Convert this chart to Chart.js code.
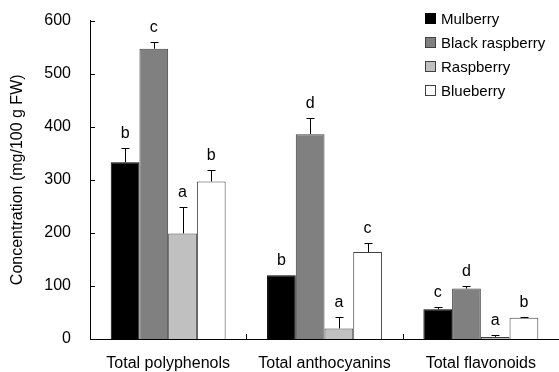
<!DOCTYPE html>
<html>
<head>
<meta charset="utf-8">
<script src="https://cdn.jsdelivr.net/npm/chart.js@4.4.0/dist/chart.umd.min.js"></script>
<style>
  html, body { margin: 0; padding: 0; background: #fff; }
  #wrap { width: 559px; height: 372px; position: relative; }
</style>
</head>
<body>
<div id="wrap"><canvas id="barChart"></canvas></div>
<script>
// Chart data
const categories = ['Total polyphenols', 'Total anthocyanins', 'Total flavonoids'];
const fruits = ['Mulberry', 'Black raspberry', 'Raspberry', 'Blueberry'];
const fillColors = ['#000000', '#808080', '#c0c0c0', '#ffffff'];

const mulberry = [333, 120, 56];
const blackRaspberry = [547, 386, 95];
const raspberry = [199, 20, 4];
const blueberry = [297, 164, 40];

const mulberryErr = [27, 0, 5];
const blackRaspberryErr = [13, 31, 4];
const raspberryErr = [49, 21, 3];
const blueberryErr = [21, 16, 2];

const mulberryLetters = ['b', 'b', 'c'];
const blackRaspberryLetters = ['c', 'd', 'd'];
const raspberryLetters = ['a', 'a', 'a'];
const blueberryLetters = ['b', 'c', 'b'];

const yTicks = [0, 100, 200, 300, 400, 500, 600];

const seriesValues = [mulberry, blackRaspberry, raspberry, blueberry];
const seriesErrors = [mulberryErr, blackRaspberryErr, raspberryErr, blueberryErr];
const seriesLetters = [mulberryLetters, blackRaspberryLetters, raspberryLetters, blueberryLetters];

const FONT = '"Liberation Sans", Arial, sans-serif';

// error bars, significance letters, inward ticks and the legend
const extrasPlugin = {
    id: 'extras',
    afterDatasetsDraw(chart) {
        const ctx = chart.ctx;
        const y = chart.scales.y;
        const area = chart.chartArea;
        ctx.save();
        ctx.strokeStyle = '#000';
        ctx.lineWidth = 1;
        ctx.fillStyle = '#000';
        ctx.font = '16px ' + FONT;
        ctx.textAlign = 'center';
        ctx.textBaseline = 'alphabetic';

        seriesValues.forEach((vals, di) => {
            const meta = chart.getDatasetMeta(di);
            meta.data.forEach((bar, i) => {
                const cx = Math.round(bar.x) + 0.5;
                const yTop = y.getPixelForValue(vals[i]);
                const yErr = y.getPixelForValue(vals[i] + seriesErrors[di][i]);
                if (seriesErrors[di][i] > 0) {
                    ctx.beginPath();
                    ctx.moveTo(cx, yTop);
                    ctx.lineTo(cx, Math.round(yErr) + 0.5);
                    ctx.moveTo(cx - 4, Math.round(yErr) + 0.5);
                    ctx.lineTo(cx + 4, Math.round(yErr) + 0.5);
                    ctx.stroke();
                }
                ctx.fillText(seriesLetters[di][i], bar.x, yErr - 10);
            });
        });

        // y ticks pointing inward
        yTicks.forEach(v => {
            const py = Math.round(y.getPixelForValue(v)) + 0.5;
            ctx.beginPath();
            ctx.moveTo(area.left, py);
            ctx.lineTo(area.left + 5, py);
            ctx.stroke();
        });
        // x ticks between categories
        const step = (area.right - area.left) / categories.length;
        for (let i = 1; i < categories.length; i++) {
            const px = Math.round(area.left + i * step) + 0.5;
            ctx.beginPath();
            ctx.moveTo(px, area.bottom);
            ctx.lineTo(px, area.bottom - 5);
            ctx.stroke();
        }

        // legend
        ctx.font = '15px ' + FONT;
        ctx.textAlign = 'left';
        ctx.textBaseline = 'middle';
        fruits.forEach((name, i) => {
            const cy = 18.5 + i * 24;
            ctx.fillStyle = fillColors[i];
            ctx.fillRect(425, cy - 5.5, 11, 11);
            ctx.strokeStyle = i === 0 ? '#000' : '#404040';
            ctx.strokeRect(425.5, cy - 5, 10, 10);
            ctx.fillStyle = '#000';
            ctx.fillText(name, 441, cy + 1);
        });
        ctx.restore();
    }
};

const ctx = document.getElementById('barChart').getContext('2d');
const chart = new Chart(ctx, {
    type: 'bar',
    data: {
        labels: categories,
        datasets: fruits.map((name, i) => ({
            label: name,
            data: seriesValues[i],
            backgroundColor: fillColors[i],
            borderColor: i === 0 ? '#000' : '#404040',
            borderWidth: 1,
            categoryPercentage: 0.735,
            barPercentage: 1
        }))
    },
    options: {
        responsive: true,
        maintainAspectRatio: false,
        animation: false,
        layout: { padding: { top: 20, right: 0, left: 0, bottom: 0 } },
        plugins: {
            legend: { display: false },
            tooltip: { enabled: false }
        },
        scales: {
            x: {
                grid: { display: false },
                border: { display: true, color: '#000', width: 1 },
                ticks: {
                    color: '#000',
                    font: { family: FONT, size: 16 },
                    padding: 7,
                    maxRotation: 0
                },
                afterFit: scale => { scale.height = 33; }
            },
            y: {
                min: 0,
                max: 600,
                grid: { display: false },
                border: { display: true, color: '#000', width: 1 },
                afterBuildTicks: scale => { scale.ticks = yTicks.map(v => ({ value: v })); },
                ticks: {
                    color: '#000',
                    font: { family: FONT, size: 16 },
                    padding: 11
                },
                title: {
                    display: true,
                    text: 'Concentration (mg/100 g FW)',
                    color: '#000',
                    font: { family: FONT, size: 16 },
                    padding: { top: 8, bottom: 0 }
                },
                afterFit: scale => { scale.width = 90; }
            }
        }
    },
    plugins: [extrasPlugin]
});
</script>
</body>
</html>
